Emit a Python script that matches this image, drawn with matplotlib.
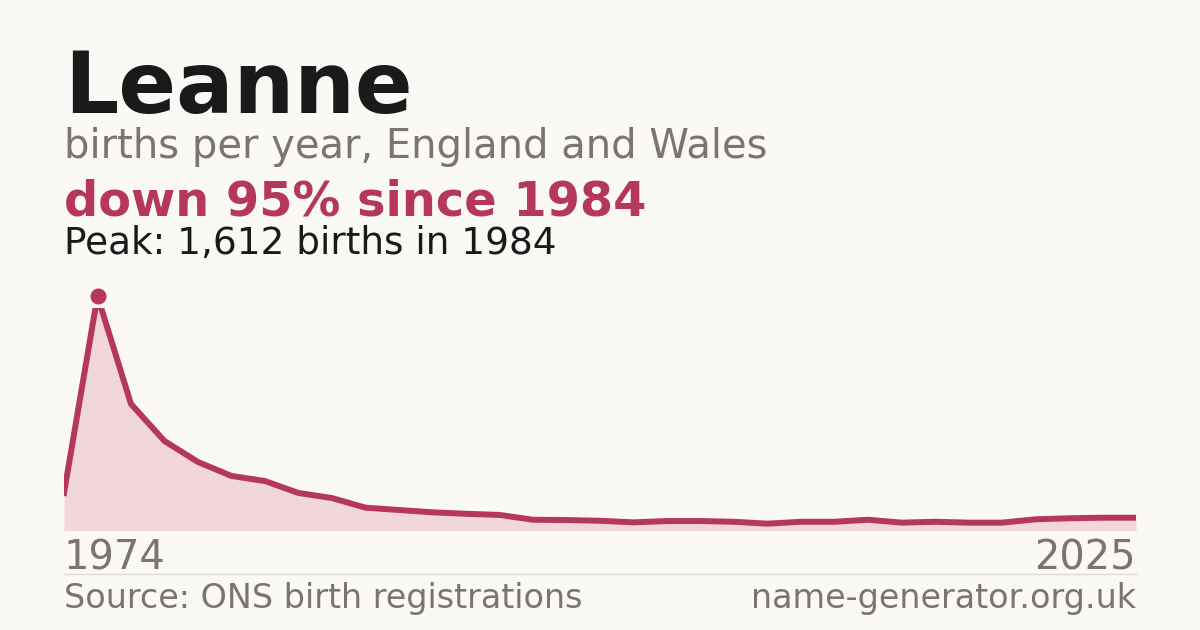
import matplotlib.pyplot as plt
import numpy as np

# data (births per year)
years = [1974, 1984] + list(range(1995, 2026))
births = [258, 1612, 870, 615, 471, 375, 340, 258, 223, 157,
          141, 125, 115, 107, 74, 72, 67, 56, 65, 65,
          60, 47, 60, 60, 74, 54, 60, 54, 54, 77,
          84, 88, 88]

name = "Leanne"
subtitle = "births per year, England and Wales"
headline = "down 95% since 1984"
peak_note = "Peak: 1,612 births in 1984"
source = "Source: ONS birth registrations"
site = "name-generator.org.uk"

bg = '#faf9f5'
red = '#b5375a'
fill = '#f1d6dc'
grey = '#7a756d'
dark = '#1a1a1a'

W, H = 1200, 630
fig = plt.figure(figsize=(12, 6.3), dpi=100, facecolor=bg)

def fy(py):
    return 1 - py / H

ax = fig.add_axes([64 / W, fy(530.5), (1136 - 64) / W, (530.5 - 308) / H])
ax.set_facecolor(bg)
x = np.arange(len(births))
ax.fill_between(x, births, 0, color=fill, lw=0)
ax.plot(x, births, color=red, lw=4.3, solid_joinstyle='miter')
ax.set_xlim(x[0], x[-1])
ax.set_ylim(0, max(births) * 0.949)
ax.axis('off')

# peak marker sits above the clipped line
ipk = int(np.argmax(births))
ax.plot(x[ipk], births[ipk], 'o', color=red, ms=10.5, clip_on=False, zorder=5)

# header texts
fig.text(64 / W, fy(113), name, fontsize=61.3, fontweight='bold', color=dark, va='baseline')
fig.text(64 / W, fy(158), subtitle, fontsize=28.8, color=grey, va='baseline')
fig.text(64 / W, fy(215), headline, fontsize=34.5, fontweight='bold', color=red, va='baseline')
fig.text(64 / W, fy(254), peak_note, fontsize=26.9, color=dark, va='baseline')

# year labels
fig.text(64 / W, fy(570), str(years[0]), fontsize=28.8, color=grey, va='baseline')
fig.text(1136 / W, fy(570), str(years[-1]), fontsize=28.8, color=grey, va='baseline', ha='right')

# separator rule
fig.add_artist(plt.Line2D([64 / W, 1136 / W], [fy(574), fy(574)], color='#dedbd4', lw=1))

fig.text(64 / W, fy(608), source, fontsize=24, color=grey, va='baseline')
fig.text(1136 / W, fy(608), site, fontsize=24, color=grey, va='baseline', ha='right')

plt.savefig('out.png', dpi=100, facecolor=bg)
